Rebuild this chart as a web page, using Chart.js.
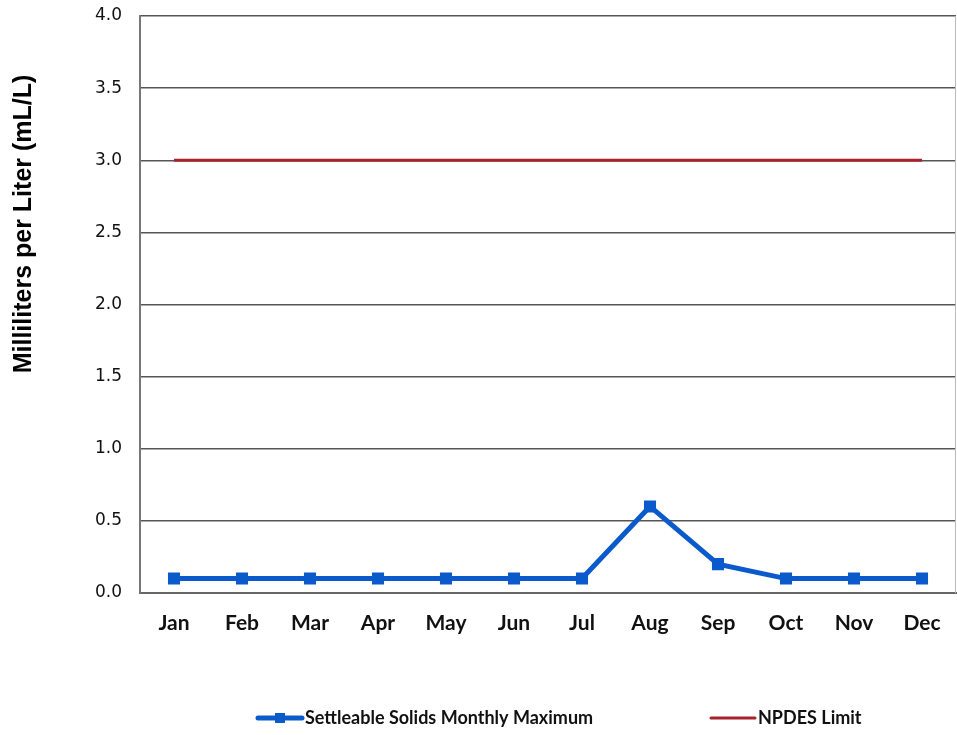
<!DOCTYPE html>
<html>
<head>
<meta charset="utf-8">
<script src="https://cdn.jsdelivr.net/npm/chart.js@4/dist/chart.umd.min.js"></script>
<style>
  html, body { margin: 0; padding: 0; background: #fff; }
  #wrap { width: 957px; height: 735px; position: relative; }
</style>
</head>
<body>
<div id="wrap"><canvas id="c" width="957" height="735"></canvas></div>
<script>
const months = ['Jan','Feb','Mar','Apr','May','Jun','Jul','Aug','Sep','Oct','Nov','Dec'];
const settleableSolids = [0.1, 0.1, 0.1, 0.1, 0.1, 0.1, 0.1, 0.6, 0.2, 0.1, 0.1, 0.1];
const npdesLimit = [3.0, 3.0, 3.0, 3.0, 3.0, 3.0, 3.0, 3.0, 3.0, 3.0, 3.0, 3.0];
const seriesNames = ['Settleable Solids Monthly Maximum', 'NPDES Limit'];
const yAxisTitle = 'Milliliters per Liter (mL/L)';

const BLUE = '#0a5acb';
const RED = '#a8232b';

const yTitlePlugin = {
  id: 'yTitle',
  afterDraw(chart) {
    const ctx = chart.ctx;
    ctx.save();
    ctx.translate(24, 224);
    ctx.rotate(-Math.PI / 2);
    ctx.font = 'bold 25px "Liberation Sans", Arial, sans-serif';
    ctx.fillStyle = '#000';
    ctx.textAlign = 'center';
    ctx.textBaseline = 'middle';
    ctx.fillText(yAxisTitle, 0, 0);
    ctx.restore();
  }
};

const frameRightPlugin = {
  id: 'frameRight',
  afterDatasetsDraw(chart) {
    const a = chart.chartArea;
    const ctx = chart.ctx;
    ctx.save();
    ctx.strokeStyle = '#bbb';
    ctx.lineWidth = 1;
    ctx.beginPath();
    ctx.moveTo(a.right - 0.5, a.top);
    ctx.lineTo(a.right - 0.5, a.bottom);
    ctx.stroke();
    ctx.restore();
  }
};

const legendPlugin = {
  id: 'customLegend',
  afterDraw(chart) {
    const ctx = chart.ctx;
    const y = 718;
    const starts = [258, 711];
    ctx.save();
    ctx.font = 'bold 18px Lato, "Open Sans", sans-serif';
    ctx.textBaseline = 'middle';
    ctx.textAlign = 'left';
    chart.data.datasets.forEach((ds, i) => {
      const x = starts[i];
      ctx.strokeStyle = ds.borderColor;
      ctx.lineWidth = ds.borderWidth;
      ctx.lineCap = 'round';
      ctx.beginPath();
      ctx.moveTo(x, y);
      ctx.lineTo(x + 44, y);
      ctx.stroke();
      if (ds.pointRadius > 0) {
        ctx.fillStyle = ds.pointBackgroundColor;
        ctx.fillRect(x + 22 - 5, y - 5, 10, 10);
      }
      ctx.fillStyle = '#111';
      ctx.fillText(ds.label, x + 47, y);
    });
    ctx.restore();
  }
};

new Chart(document.getElementById('c'), {
  type: 'line',
  data: {
    labels: months,
    datasets: [
      {
        label: seriesNames[0],
        data: settleableSolids,
        borderColor: BLUE,
        backgroundColor: BLUE,
        pointBackgroundColor: BLUE,
        pointBorderColor: BLUE,
        borderWidth: 5,
        pointStyle: 'rect',
        pointRadius: 5,
        tension: 0,
        order: 1
      },
      {
        label: seriesNames[1],
        data: npdesLimit,
        borderColor: RED,
        backgroundColor: RED,
        borderWidth: 3,
        pointRadius: 0,
        tension: 0,
        order: 2
      }
    ]
  },
  options: {
    responsive: false,
    animation: false,
    layout: { autoPadding: false, padding: { left: 0, right: 1, top: 16, bottom: 82 } },
    plugins: {
      legend: { display: false },
      tooltip: { enabled: false }
    },
    scales: {
      x: {
        offset: true,
        grid: { display: false, drawTicks: false },
        border: { display: true, color: '#666', width: 2 },
        ticks: {
          padding: 18,
          color: '#111',
          font: { family: 'Lato, "Open Sans", sans-serif', size: 21, weight: 'bold' },
          maxRotation: 0
        },
        afterFit(scale) { scale.height = 60; scale.paddingLeft = 0; scale.paddingRight = 0; }
      },
      y: {
        min: 0,
        max: 4,
        ticks: {
          stepSize: 0.5,
          padding: 18,
          color: '#111',
          font: { family: '"DejaVu Sans", sans-serif', size: 17 },
          callback: v => Number(v).toFixed(1)
        },
        grid: { color: '#555', lineWidth: 1.5, drawTicks: false },
        border: { display: true, color: '#777', width: 2 },
        afterFit(scale) { scale.width = 140; scale.paddingTop = 0; scale.paddingBottom = 0; }
      }
    }
  },
  plugins: [yTitlePlugin, frameRightPlugin, legendPlugin]
});
</script>
</body>
</html>
